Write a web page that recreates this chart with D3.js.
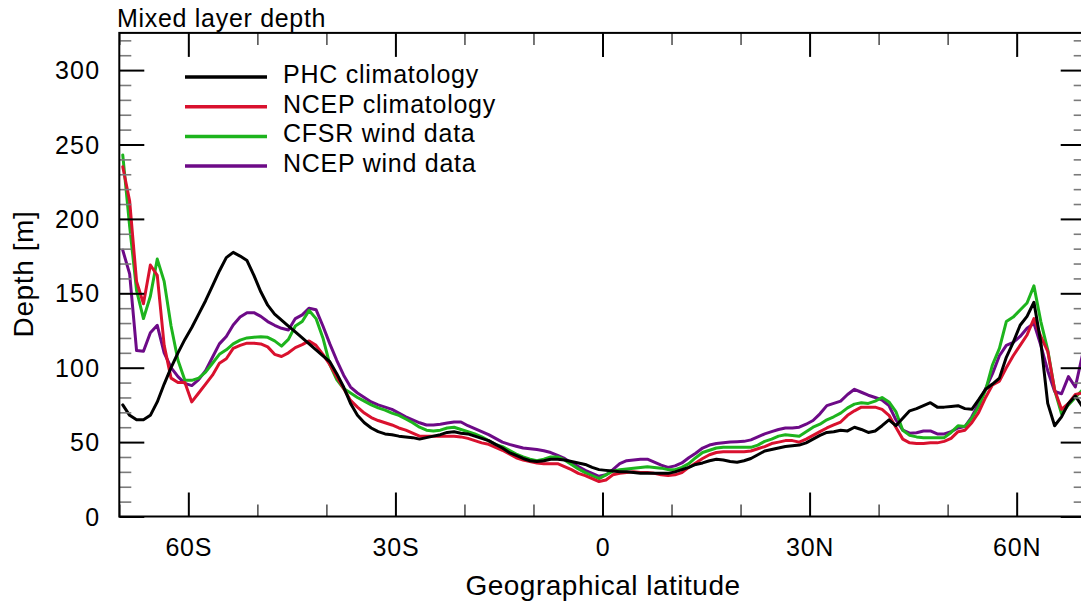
<!DOCTYPE html>
<html>
<head>
<meta charset="utf-8">
<script src="https://cdn.jsdelivr.net/npm/d3@7"></script>
<style>
  body { margin: 0; background: #fff; }
  text { font-family: "Liberation Sans", Arial, Helvetica, sans-serif; fill: #000; }
</style>
</head>
<body>
<svg id="chart" width="1081" height="603"></svg>
<script>
// Latitude grid (cell centres, degrees; negative = south)
const latitudes = d3.range(-69.5, 70, 1);

// Zonal mean mixed layer depth [m], one value per latitude above
const phcClimatology = [
  75, 68, 65, 65, 68, 77, 89, 100, 110, 119,
  127, 136, 145, 155, 165, 174, 177.5, 175, 172, 162,
  151, 142, 136, 132, 128, 124, 120, 116, 112, 108,
  104, 96, 87, 76, 68, 63, 59.5, 57, 55.5, 55,
  54, 53.5, 53, 52, 53, 54, 55, 56.5, 57, 56,
  55.5, 54, 52.5, 51, 48.5, 46, 43, 41, 39, 37.5,
  37, 37.5, 38.5, 38.5, 38, 37, 36, 35, 33, 31.5,
  31, 30.5, 30, 30, 29.5, 29, 29, 29, 29, 29,
  30, 31.5, 33, 35, 36, 37.5, 38.5, 38, 37, 36.5,
  37.5, 39, 41.5, 44, 45, 46, 47, 47.5, 48, 49.5,
  52, 54.5, 56.5, 57, 58, 57.5, 60, 58.5, 56.5, 57.5,
  61, 65, 61, 66, 71, 72.5, 74.5, 76.5, 73.5, 73.5,
  74, 74.5, 72.5, 72, 78.5, 85.5, 89, 93, 107, 117,
  128.5, 134.5, 144, 117, 76, 61, 67, 76, 81, 74
];
const ncepClimatology = [
  235, 212, 158, 143, 169, 162, 115, 93, 90, 90,
  77, 83, 89, 95, 103, 106, 113, 115, 116.5, 116.5,
  116, 114, 109, 107.5, 110, 113.5, 115.5, 118, 115, 109,
  102, 94, 86, 78, 73.5, 69.5, 66.5, 64.5, 63, 61.5,
  59.5, 58, 56, 54, 54, 54, 54, 54, 54, 53.5,
  52.5, 51, 49.5, 48.5, 46.5, 44.5, 42, 39.5, 38, 37,
  36, 35.5, 35.5, 35.5, 33.5, 31.5, 29, 27.5, 25.5, 23.5,
  24.5, 28, 29, 29.5, 30, 29.5, 29.5, 29, 28, 27.5,
  28, 29.5, 33, 36, 39, 41.5, 43, 43.5, 43.5, 43.5,
  43.5, 44, 45.5, 47, 49, 50, 51, 51, 50, 52,
  54.5, 57, 59.5, 61.5, 63.5, 68, 71, 73.5, 73.5, 73.5,
  72, 68, 60, 52, 49.5, 49, 49, 49.5, 49.5, 50.5,
  52.5, 57, 58, 63, 70, 80, 88.5, 91, 100, 108,
  115, 122, 133, 121, 111, 85, 72, 76, 82, 83
];
const cfsrWind = [
  243, 195, 152, 133, 148, 173, 158, 128, 105, 91.5,
  91.5, 93, 97, 103, 109, 112, 116, 118.5, 120, 120.5,
  120.8, 120.4, 118, 114.5, 119, 128, 131, 138.5, 133, 120,
  102, 92, 86, 83, 80, 77.5, 75, 73, 71.5, 69.5,
  68, 65.5, 63, 60, 58, 57.5, 58, 59.5, 60, 58.5,
  57, 55.5, 53.5, 51, 48.5, 47, 44.5, 42, 40, 38.5,
  37.5, 38.5, 40, 40, 38, 35, 32, 29.5, 27.5, 25.5,
  28, 30.5, 31.5, 32, 32.5, 33, 33.5, 33, 32.5, 31.5,
  31.5, 33, 35.5, 39.5, 43, 44.5, 46, 46.5, 46.5, 46.5,
  46.5, 46.5, 48, 50.5, 52, 54, 55, 54.5, 54, 57,
  60, 62, 65, 67, 69.5, 73, 75.5, 76.5, 76, 77.5,
  80, 77, 70.5, 58, 54.5, 53.5, 53, 53, 53, 53,
  56.5, 61, 60.5, 66, 74, 85, 102, 113, 131, 134,
  138.8, 143.5, 155, 131, 112, 85, 69, 75, 80, 85
];
const ncepWind = [
  179, 163, 111.5, 111, 123.5, 128.5, 110, 100, 94, 89.5,
  88, 92, 98, 107, 116, 121, 128.7, 134, 137, 137,
  134.5, 131, 128.5, 126.5, 125.3, 133, 135.5, 140, 139, 128,
  116, 105, 95, 87, 83, 80, 77, 75, 73.5, 72,
  69.5, 67, 65, 63, 61.5, 61.5, 62, 62.8, 63.5, 63.5,
  61, 59, 57, 55, 52.5, 50, 48.5, 47.2, 46, 45.5,
  45, 44.2, 43, 41, 39, 36, 33.5, 31, 29, 27,
  28, 31.5, 35.5, 37.5, 38, 38.5, 38.5, 36.5, 34.5, 33,
  34, 36, 39.5, 42.5, 46, 48, 49, 49.5, 50, 50.3,
  50.5, 51.5, 53.5, 55.5, 57, 58.5, 59.5, 59.5, 60, 62,
  64.5, 69, 74.5, 76, 77.5, 82, 85.5, 83.5, 81.5, 80,
  78.3, 74.5, 65, 58, 56, 56.3, 57.5, 57.5, 55.5, 55.5,
  57, 59.5, 60.4, 67, 76, 86, 96, 108, 115, 117,
  121, 126.5, 129.8, 115, 98, 84, 82.5, 94, 87, 108
];

const seriesNames  = ["PHC climatology", "NCEP climatology", "CFSR wind data", "NCEP wind data"];
const seriesValues = [phcClimatology, ncepClimatology, cfsrWind, ncepWind];
const seriesColors = ["#000000", "#d9112e", "#1db41d", "#6d0a87"];

// Tick positions
const majorLatTicks   = [-60, -30, 0, 30, 60];
const minorLatTicks   = [-70, -50, -40, -20, -10, 10, 20, 40, 50, 70];
const majorDepthTicks = [0, 50, 100, 150, 200, 250, 300];
const minorDepthTicks = [10, 20, 30, 40, 60, 70, 80, 90, 110, 120, 130, 140, 160, 170, 180, 190,
                         210, 220, 230, 240, 260, 270, 280, 290, 310, 320];

const svg = d3.select("#chart");

const x = d3.scaleLinear().domain([-70, 70]).range([119.3, 1085.7]);
const y = d3.scaleLinear().domain([0, 325]).range([516.5, 32.9]);

const latLabel = d => d === 0 ? "0" : (d < 0 ? `${-d}S` : `${d}N`);
const FONT = "'Liberation Sans', Arial, Helvetica, sans-serif";

// Clip region for the curves
svg.append("defs").append("clipPath").attr("id", "plot-clip")
  .append("rect")
  .attr("x", x(-70)).attr("y", y(325))
  .attr("width", x(70) - x(-70)).attr("height", y(0) - y(325));

// Curves (black climatology drawn last, on top)
const line = d3.line()
  .x((d, i) => x(latitudes[i]))
  .y(d => y(d));

const drawOrder = [3, 2, 1, 0];
svg.append("g").attr("clip-path", "url(#plot-clip)")
  .selectAll("path")
  .data(drawOrder)
  .join("path")
  .attr("d", k => line(seriesValues[k]))
  .attr("fill", "none")
  .attr("stroke", k => seriesColors[k])
  .attr("stroke-width", 3)
  .attr("stroke-linejoin", "round")
  .attr("stroke-linecap", "round");

// Axes: all ticks point into the plot
function styleAxis(g, color, width) {
  g.select(".domain").remove();
  g.selectAll(".tick line").attr("stroke", color).attr("stroke-width", width);
}

// Left
svg.append("g").attr("transform", `translate(${x(-70)},0)`)
  .call(d3.axisLeft(y).tickValues(minorDepthTicks).tickSizeInner(-12).tickSizeOuter(0).tickFormat(""))
  .call(g => styleAxis(g, "#7a7a7a", 1.6));
svg.append("g").attr("transform", `translate(${x(-70)},0)`)
  .call(d3.axisLeft(y).tickValues(majorDepthTicks).tickSizeInner(-25).tickSizeOuter(0).tickPadding(19))
  .call(g => styleAxis(g, "#000", 2))
  .call(g => g.selectAll(".tick text")
    .attr("font-size", 25).attr("dy", "0.34em").attr("letter-spacing", 1.2)
    .style("font-family", FONT));

// Right
svg.append("g").attr("transform", `translate(${x(70)},0)`)
  .call(d3.axisRight(y).tickValues(minorDepthTicks).tickSizeInner(-12).tickSizeOuter(0).tickFormat(""))
  .call(g => styleAxis(g, "#7a7a7a", 1.6));
svg.append("g").attr("transform", `translate(${x(70)},0)`)
  .call(d3.axisRight(y).tickValues(majorDepthTicks).tickSizeInner(-25).tickSizeOuter(0).tickFormat(""))
  .call(g => styleAxis(g, "#000", 2));

// Bottom
svg.append("g").attr("transform", `translate(0,${y(0)})`)
  .call(d3.axisBottom(x).tickValues(minorLatTicks).tickSizeInner(-12).tickSizeOuter(0).tickFormat(""))
  .call(g => styleAxis(g, "#555", 1.6));
svg.append("g").attr("transform", `translate(0,${y(0)})`)
  .call(d3.axisBottom(x).tickValues(majorLatTicks).tickSizeInner(-24).tickSizeOuter(0).tickPadding(21.5).tickFormat(latLabel))
  .call(g => styleAxis(g, "#000", 2))
  .call(g => g.selectAll(".tick text")
    .attr("font-size", 25).attr("letter-spacing", 0.8)
    .style("font-family", FONT));

// Top
svg.append("g").attr("transform", `translate(0,${y(325)})`)
  .call(d3.axisTop(x).tickValues(minorLatTicks).tickSizeInner(-12).tickSizeOuter(0).tickFormat(""))
  .call(g => styleAxis(g, "#555", 1.6));
svg.append("g").attr("transform", `translate(0,${y(325)})`)
  .call(d3.axisTop(x).tickValues(majorLatTicks).tickSizeInner(-24).tickSizeOuter(0).tickFormat(""))
  .call(g => styleAxis(g, "#000", 2));

// Frame
svg.append("rect")
  .attr("x", x(-70)).attr("y", y(325))
  .attr("width", x(70) - x(-70)).attr("height", y(0) - y(325))
  .attr("fill", "none").attr("stroke", "#000").attr("stroke-width", 2);

// Titles
svg.append("text").attr("x", 117).attr("y", 27).attr("font-size", 25)
  .attr("letter-spacing", 0.7).text("Mixed layer depth");
svg.append("text").attr("x", 603).attr("y", 595).attr("font-size", 28)
  .attr("letter-spacing", 0.5).attr("text-anchor", "middle").text("Geographical latitude");
svg.append("text").attr("transform", "translate(33,274) rotate(-90)").attr("font-size", 28)
  .attr("letter-spacing", 0.6).attr("text-anchor", "middle").text("Depth [m]");

// Legend
const legend = svg.append("g").attr("transform", "translate(185,77)");
const rows = legend.selectAll("g").data(seriesNames).join("g")
  .attr("transform", (d, i) => `translate(0,${i * 29.7})`);
rows.append("line")
  .attr("x1", 0).attr("x2", 82).attr("y1", 0).attr("y2", 0)
  .attr("stroke", (d, i) => seriesColors[i]).attr("stroke-width", 3.5);
rows.append("text")
  .attr("x", 98).attr("y", 6).attr("font-size", 25).attr("letter-spacing", 0.75)
  .text(d => d);
</script>
</body>
</html>
